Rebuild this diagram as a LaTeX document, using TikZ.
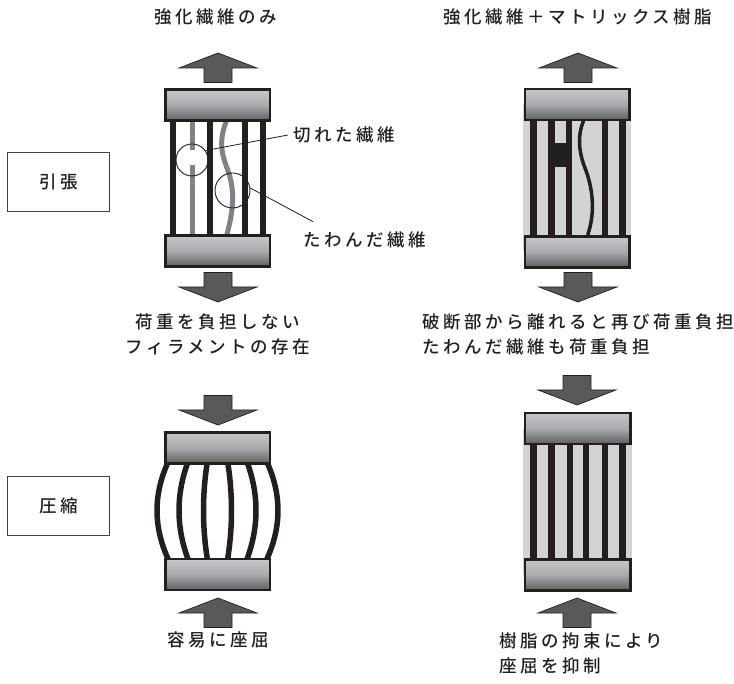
\documentclass[tikz,border=0pt]{standalone}
\usepackage{fontspec}
\usepackage{xcolor}
\usepackage{tikz}
\usetikzlibrary{calc}
\newfontfamily\jpfont{Noto Sans CJK JP}[UprightFont=* Medium, LetterSpace=20]
\definecolor{inkBlack}{HTML}{231F20}
\definecolor{plateLight}{HTML}{C6C7C9}
\definecolor{plateMid}{HTML}{A9AAAD}
\definecolor{plateDark}{HTML}{5D5E60}
\definecolor{resinGray}{HTML}{D1D3D4}
\definecolor{fibreGray}{HTML}{808285}
\definecolor{arrowGray}{HTML}{58595B}

\begin{document}
\begin{tikzpicture}[
    x=1pt, y=-1pt,
    every node/.style={font=\jpfont\fontsize{17.5}{25}\selectfont, text=inkBlack},
    plate/.style={draw=inkBlack, line width=2.5pt, top color=plateLight,
                  bottom color=plateDark, middle color=plateMid,
                  minimum width=104.5pt, minimum height=31pt, inner sep=0pt},
    bar/.style={inkBlack, line width=6.5pt},
    strand/.style={fibreGray, line width=5pt},
    kink/.style={inkBlack, line width=3.5pt},
    bow/.style={inkBlack, line width=5.5pt},
    resin/.style={fill=resinGray},
    ring/.style={circle, draw=inkBlack, line width=0.9pt, inner sep=0pt},
    leader/.style={draw=inkBlack, line width=0.8pt},
    modebox/.style={draw=inkBlack!85, line width=1.1pt,
                    minimum width=102pt, minimum height=59pt},
    note/.style={inner sep=0pt},
    loadarrow/.pic={
      \filldraw[fill=arrowGray, draw=inkBlack, line width=0.7pt]
        (0,0) -- (39,15) -- (14,15) -- (14,29.5) -- (-14,29.5)
        -- (-14,15) -- (-39,15) -- cycle;}
  ]
  \useasboundingbox (0,0) rectangle (734,684);

  %% column titles and load cases
  \node (ttlA) at (216,17)   {強化繊維のみ};
  \node (ttlB) at (577.5,17) {強化繊維＋マトリックス樹脂};
  \node[modebox] (tens) at (58.5,182) {引張};
  \node[modebox] (comp) at (58.5,506) {圧縮};

  %% Tension, fibres only: one broken, one slack
  \foreach \x in {173,210,245,263} \draw[bar] (\x,105) -- (\x,251);
  \draw[strand] (192,105) -- (192,150);
  \draw[strand] (192,165) -- (192,251);
  \draw[strand] (226,105) -- (226,122) .. controls (220,138) and (220,150) .. (227,168)
        .. controls (234,186) and (235,205) .. (227,234) -- (227,251);
  \node[plate] (tAtop) at (217.5,105.25) {};
  \node[plate] (tAbot) at (217.5,251.25) {};
  \pic at (218,53) {loadarrow};
  \pic[rotate=180] at (218,302) {loadarrow};
  %% call-outs
  \node[ring,minimum size=32pt] (brk)  at (192,160)     {};
  \node[ring,minimum size=35pt] (bent) at (232.5,190.5) {};
  \node[anchor=west,inner sep=5pt] (brklab)  at (288,135) {切れた繊維};
  \node[anchor=west,inner sep=5pt] (bentlab) at (298,240) {たわんだ繊維};
  \draw[leader] (brk.35) -- (brklab.west);
  \draw[leader] (bent.8) -- ([xshift=15pt,yshift=5pt]bentlab.north west);

  %% Tension, fibres in resin
  \fill[resin] (523,104.5) rectangle (631,252);
  \foreach \x in {533.5,551.5,569,605,622.5} \draw[bar] (\x,104) -- (\x,252);
  \fill[inkBlack] (551.5,143) rectangle (569,167);
  \draw[kink] (583,104) -- (583,122) .. controls (578,135) and (578,150) .. (585,168)
        .. controls (592,186) and (596,210) .. (588,234) -- (588,252);
  \node[plate] (tBtop) at (577,104.5) {};
  \node[plate] (tBbot) at (577,252) {};
  \pic at (578,53) {loadarrow};
  \pic[rotate=180] at (578,302) {loadarrow};

  \node[note,align=center] (noteA) at (218,334.5) {荷重を負担しない\\フィラメントの存在};
  \node[note,align=left,anchor=west] (noteB) at (422,334.5)
        {破断部から離れると再び荷重負担\\たわんだ繊維も荷重負担};

  %% Compression, fibres only: buckled outwards
  \foreach \d/\c in {9.5/15.5, 28/42, 47.5/64.8} {
    \draw[bow] (217.5-\d,458) .. controls (217.5-\c,493) and (217.5-\c,528) .. (217.5-\d,563);
    \draw[bow] (217.5+\d,458) .. controls (217.5+\c,493) and (217.5+\c,528) .. (217.5+\d,563);
  }
  \node[plate] (cAtop) at (217.5,448)   {};
  \node[plate] (cAbot) at (217.5,574.5) {};
  \pic[rotate=180] at (218,425) {loadarrow};
  \pic at (218,598) {loadarrow};

  %% Compression, fibres in resin
  \fill[resin] (523,428) rectangle (632,575);
  \foreach \x in {533.5,551.5,570,586,605,622.5} \draw[bar] (\x,428) -- (\x,575);
  \node[plate,minimum width=105.5pt] (cBtop) at (577.5,428.5) {};
  \node[plate,minimum width=105.5pt] (cBbot) at (577.5,575)   {};
  \pic[rotate=180] at (577,405) {loadarrow};
  \pic at (577,598) {loadarrow};

  \node[note] (noteC) at (218,640) {容易に座屈};
  \node[note,align=left,anchor=west] (noteD) at (499,653) {樹脂の拘束により\\座屈を抑制};
\end{tikzpicture}
\end{document}
